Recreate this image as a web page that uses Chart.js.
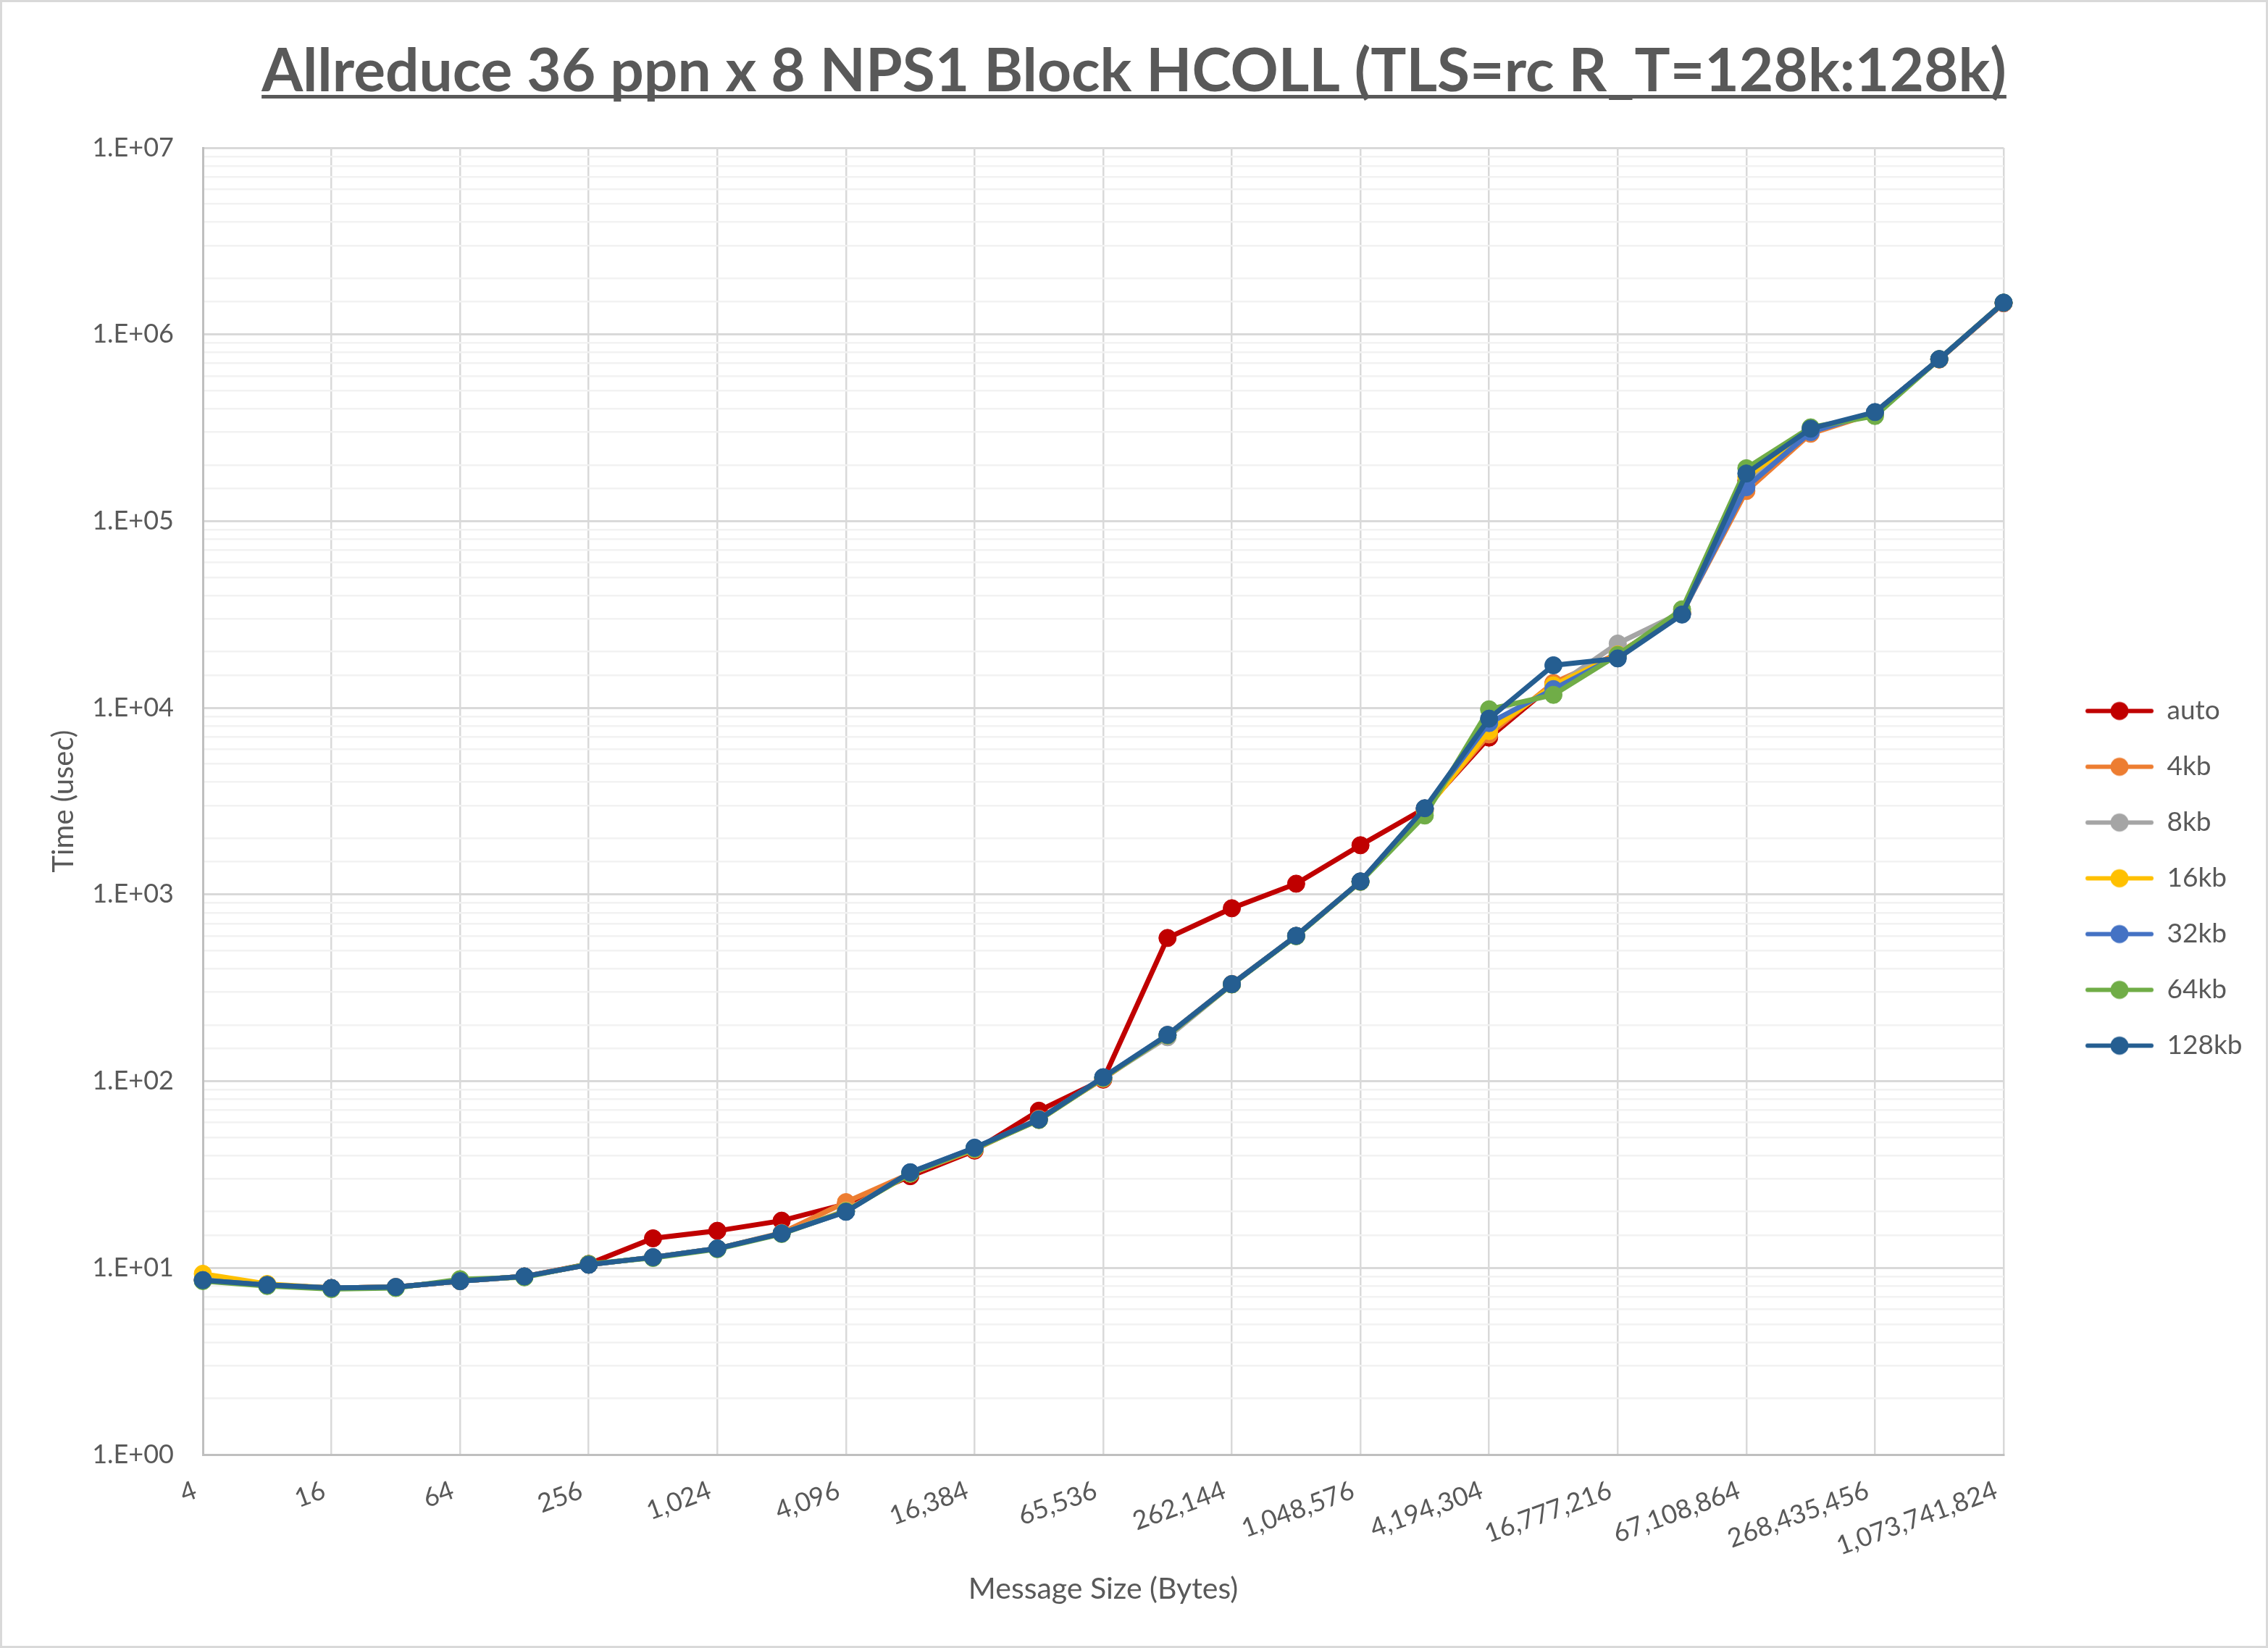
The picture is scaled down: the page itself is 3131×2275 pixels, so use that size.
<!DOCTYPE html>
<html>
<head>
<meta charset="utf-8">
<title>Allreduce 36 ppn x 8 NPS1 Block HCOLL</title>
<script src="https://cdn.jsdelivr.net/npm/chart.js@4/dist/chart.umd.min.js"></script>
<style>
  html, body { margin: 0; padding: 0; background: #fff; }
  canvas { display: block; }
</style>
</head>
<body>
<canvas id="chart" width="3131" height="2275"></canvas>
<script>
// message sizes in bytes (2^2 .. 2^30)
const sizes = [4, 8, 16, 32, 64, 128, 256, 512, 1024, 2048, 4096, 8192, 16384, 32768, 65536,
  131072, 262144, 524288, 1048576, 2097152, 4194304, 8388608, 16777216, 33554432,
  67108864, 134217728, 268435456, 536870912, 1073741824];

// time in usec
const auto  = [8.6, 8.1, 7.8, 7.9, 8.5, 9.0, 10.5, 14.4, 15.8, 17.9, 22, 31, 42.5, 69.5, 102, 585, 844, 1143, 1836, 2890, 6930, 13400, 19500, 32000, 165000, 305000, 382000, 735000, 1470000];
const kb4   = [8.7, 8.1, 7.8, 7.9, 8.5, 9.0, 10.4, 11.4, 12.7, 15.4, 22.5, 32, 43, 63, 103, 177, 332, 600, 1175, 2850, 7200, 13600, 19500, 32200, 145000, 294000, 380000, 735000, 1475000];
const kb8   = [8.7, 8.1, 7.8, 7.9, 8.5, 9.0, 10.4, 11.4, 12.7, 15.3, 20.3, 32, 43.5, 62, 104, 172, 330, 600, 1170, 2850, 8000, 12800, 22100, 32500, 160000, 300000, 382000, 737000, 1478000];
const kb16  = [9.3, 8.2, 7.8, 7.9, 8.5, 9.0, 10.4, 11.4, 12.7, 15.3, 20.2, 32, 43.5, 62, 104, 176, 330, 600, 1170, 2800, 7510, 13200, 19300, 32500, 172000, 305000, 382000, 737000, 1478000];
const kb32  = [8.6, 8.1, 7.8, 7.9, 8.5, 9.0, 10.4, 11.4, 12.7, 15.3, 20.0, 32.5, 44, 62.5, 105, 177, 331, 600, 1175, 2880, 8290, 12600, 19000, 32000, 152000, 300000, 382000, 738000, 1480000];
const kb64  = [8.5, 8.0, 7.7, 7.8, 8.7, 8.9, 10.5, 11.3, 12.6, 15.2, 20.1, 32, 43.5, 62, 104, 176, 330, 598, 1170, 2650, 9820, 11740, 19200, 33700, 192000, 318000, 366000, 738000, 1480000];
const kb128 = [8.6, 8.1, 7.8, 7.9, 8.5, 9.0, 10.4, 11.4, 12.7, 15.3, 20.0, 32.5, 44, 62.3, 105, 177, 331, 601, 1175, 2900, 8750, 16900, 18400, 31600, 180000, 313000, 384000, 738000, 1480000];

const seriesNames  = ['auto', '4kb', '8kb', '16kb', '32kb', '64kb', '128kb'];
const seriesValues = [auto, kb4, kb8, kb16, kb32, kb64, kb128];
const seriesColors = ['#C00000', '#ED7D31', '#A5A5A5', '#FFC000', '#4472C4', '#70AD47', '#255E91'];

const FONT = 'Lato, "Open Sans", sans-serif';
const TEXT = '#595959';
const TITLE_SIZE = 82, LEGEND_SIZE = 37, LEGEND_PAD = 40, ICON_W = 94;
const PLOT_RIGHT = 2766;

function isDecade(v){
  const l = Math.log10(v);
  return Math.abs(l - Math.round(l)) < 1e-9;
}

// line + marker icon for the legend
function legendIcon(color){
  const c = document.createElement('canvas');
  c.width = ICON_W; c.height = 28;
  const g = c.getContext('2d');
  g.strokeStyle = color; g.lineWidth = 6; g.lineCap = 'round';
  g.beginPath(); g.moveTo(3, 14); g.lineTo(ICON_W - 3, 14); g.stroke();
  g.fillStyle = color;
  g.beginPath(); g.arc(ICON_W / 2, 14, 12.5, 0, Math.PI * 2); g.fill();
  return c;
}
const icons = seriesColors.map(legendIcon);

// work out how wide Chart.js will make the legend so the plot ends where Excel's did
const mctx = document.createElement('canvas').getContext('2d');
mctx.font = `${LEGEND_SIZE}px ${FONT}`;
const maxText = Math.max(...seriesNames.map(n => mctx.measureText(n).width));
const legendW = LEGEND_PAD + ICON_W + LEGEND_SIZE / 2 + maxText + 10;
const rightPad = 3131 - PLOT_RIGHT - legendW;

const frame = {
  id: 'frame',
  beforeDraw(chart){
    const {ctx, width, height} = chart;
    ctx.save();
    ctx.fillStyle = '#fff';
    ctx.fillRect(0, 0, width, height);
    ctx.strokeStyle = '#d9d9d9';
    ctx.lineWidth = 3;
    ctx.strokeRect(1.5, 1.5, width - 3, height - 3);
    ctx.restore();
  },
  afterLayout(chart){
    // title centred on the whole canvas, legend nudged right and down
    const tb = chart.titleBlock;
    tb.right += rightPad; tb.width += rightPad;
    const lg = chart.legend;
    const dx = 2879 - (lg.left + LEGEND_PAD);
    lg.left += dx; lg.right += dx;
    lg.top += 75; lg.bottom += 75;
  },
  afterDraw(chart){
    // underline the title
    const tb = chart.titleBlock;
    const ctx = chart.ctx;
    ctx.save();
    ctx.font = `bold ${TITLE_SIZE}px ${FONT}`;
    const w = ctx.measureText(tb.options.text).width;
    const cx = (tb.left + tb.right) / 2;
    ctx.fillStyle = TEXT;
    ctx.fillRect(cx - w / 2, 131, w, 5);
    ctx.restore();
  }
};

new Chart(document.getElementById('chart').getContext('2d'), {
  type: 'line',
  data: {
    labels: sizes.map(s => s.toLocaleString('en-US')),
    datasets: seriesNames.map((name, i) => ({
      label: name,
      data: seriesValues[i],
      borderColor: seriesColors[i],
      backgroundColor: seriesColors[i],
      pointBackgroundColor: seriesColors[i],
      pointBorderColor: seriesColors[i],
      borderWidth: 7,
      pointRadius: 12,
      pointBorderWidth: 1,
      tension: 0,
      order: seriesNames.length - 1 - i
    }))
  },
  plugins: [frame],
  options: {
    responsive: false,
    devicePixelRatio: 1,
    animation: false,
    layout: { padding: { top: 0, left: 0, right: rightPad, bottom: 0 } },
    plugins: {
      title: {
        display: true,
        text: 'Allreduce 36 ppn x 8 NPS1 Block HCOLL (TLS=rc R_T=128k:128k)',
        color: TEXT,
        font: { family: FONT, size: TITLE_SIZE, weight: 'bold', lineHeight: 1.2 },
        padding: { top: 50, bottom: 55.6 }
      },
      legend: {
        position: 'right',
        labels: {
          usePointStyle: true,
          pointStyleWidth: ICON_W,
          boxHeight: LEGEND_SIZE,
          padding: LEGEND_PAD,
          color: TEXT,
          font: { family: FONT, size: LEGEND_SIZE },
          sort: (a, b) => a.datasetIndex - b.datasetIndex,
          generateLabels(chart){
            const items = Chart.defaults.plugins.legend.labels.generateLabels(chart);
            items.forEach(it => { it.pointStyle = icons[it.datasetIndex]; });
            return items;
          }
        }
      },
      tooltip: { enabled: false }
    },
    scales: {
      x: {
        type: 'category',
        offset: false,
        grid: {
          color: '#d9d9d9',
          lineWidth: 2.5,
          drawTicks: false
        },
        border: { color: '#bfbfbf', width: 3 },
        ticks: {
          autoSkip: false,
          minRotation: 20,
          maxRotation: 20,
          padding: 28,
          labelOffset: -10,
          color: TEXT,
          font: { family: FONT, size: 36 },
          callback(v, i){ return i % 2 ? null : this.getLabelForValue(v); }
        },
        title: {
          display: true,
          text: 'Message Size (Bytes)',
          color: TEXT,
          font: { family: FONT, size: 41 },
          padding: { top: 0, bottom: 57 }
        },
        afterFit(scale){ scale.height = 267; }
      },
      y: {
        type: 'logarithmic',
        min: 1,
        max: 1e7,
        grid: {
          color: ctx => ctx.tick && isDecade(ctx.tick.value) ? '#d9d9d9' : '#f2f2f2',
          lineWidth: ctx => ctx.tick && isDecade(ctx.tick.value) ? 3 : 2.5,
          drawTicks: false
        },
        border: { color: '#bfbfbf', width: 3 },
        ticks: {
          autoSkip: false,
          padding: 40,
          color: TEXT,
          font: { family: FONT, size: 36 },
          callback(v){
            if (!isDecade(v)) return '';
            return '1.E+' + String(Math.round(Math.log10(v))).padStart(2, '0');
          }
        },
        title: {
          display: true,
          text: 'Time (usec)',
          color: TEXT,
          font: { family: FONT, size: 40 },
          padding: { top: 64, bottom: 0 }
        },
        afterFit(scale){ scale.width = 280; }
      }
    }
  }
});
</script>
</body>
</html>
